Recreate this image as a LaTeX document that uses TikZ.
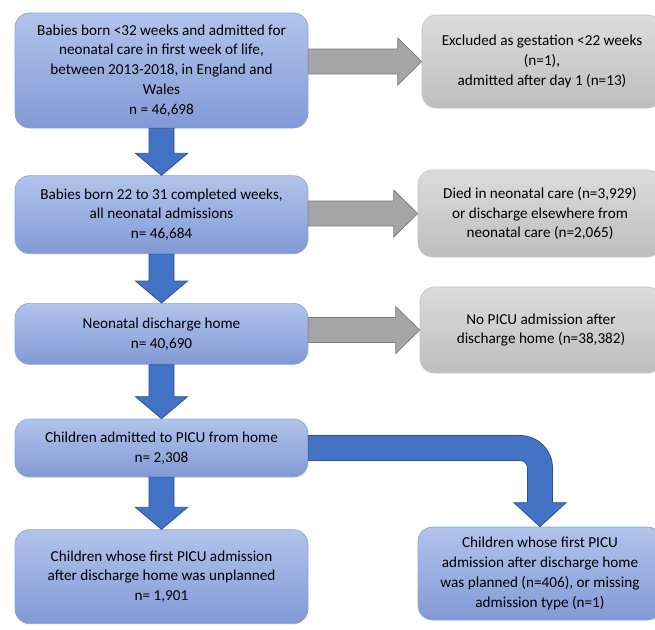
\documentclass[tikz,border=0pt]{standalone}
\usepackage{fontspec}
\setmainfont{Carlito}
\usetikzlibrary{positioning,calc}

\definecolor{bluetop}{HTML}{B2C4EB}
\definecolor{bluebot}{HTML}{8299D6}
\definecolor{blueline}{HTML}{8CA5DA}
\definecolor{greytop}{HTML}{DCDCDC}
\definecolor{greybot}{HTML}{BEBEBE}
\definecolor{greyline}{HTML}{C4C4C4}
\definecolor{arrowblue}{HTML}{4472C4}
\definecolor{arrowblueline}{HTML}{2F528F}
\definecolor{arrowgrey}{HTML}{A5A5A5}
\definecolor{arrowgreyline}{HTML}{7F7F7F}

\newcommand{\vflow}[2]{%
  \path[flowblue] ($(#1)+(-12.5,0)$) -- ($(#1)+(12.5,0)$) -- ($(#2)+(12.5,-22)$)
    -- ($(#2)+(26,-22)$) -- (#2) -- ($(#2)+(-26,-22)$) -- ($(#2)+(-12.5,-22)$) -- cycle;}
\newcommand{\hflow}[2]{%
  \path[flowgrey] ($(#1)+(0,-12.5)$) -- ($(#2)+(-24,-12.5)$) -- ($(#2)+(-24,-23.5)$)
    -- (#2) -- ($(#2)+(-24,23.5)$) -- ($(#2)+(-24,12.5)$) -- ($(#1)+(0,12.5)$) -- cycle;}

\begin{document}
\begin{tikzpicture}[x=0.75pt,y=-0.75pt,
    every node/.style={align=center, font=\fontsize{11.4pt}{14.9pt}\selectfont, inner sep=2pt},
    bluebox/.style={rounded corners=11pt, draw=blueline, line width=0.5pt,
      top color=bluetop, bottom color=bluebot, minimum width=219.75pt},
    greybox/.style={rounded corners=11pt, draw=greyline, line width=0.5pt,
      top color=greytop, bottom color=greybot},
    flowblue/.style={fill=arrowblue, draw=arrowblueline, line width=0.6pt},
    flowgrey/.style={fill=arrowgrey, draw=arrowgreyline, line width=0.6pt}]
    \path[fill=white, use as bounding box] (0,0) rectangle (655,629);

    \node (b1) [bluebox, minimum height=86.25pt] at (161.5,70.5)
        {Babies born <32 weeks and admitted for\\ neonatal care in first week of life,\\
         between 2013-2018, in England and\\ Wales\\ n = 46,698};
    \node (b2) [bluebox, minimum height=58.5pt, below=35.25pt of b1]
        {Babies born 22 to 31 completed weeks,\\ all neonatal admissions\\ n= 46,684};
    \node (b3) [bluebox, minimum height=45.75pt, below=36.75pt of b2]
        {Neonatal discharge home\\ n= 40,690};
    \node (b4) [bluebox, minimum height=43.5pt, below=40.5pt of b3]
        {Children admitted to PICU from home\\ n= 2,308};
    \node (b5) [bluebox, minimum height=70.5pt, below=39pt of b4]
        {Children whose first PICU admission\\ after discharge home was unplanned\\ n= 1,901};

    \node (g1) [greybox, minimum width=180pt, minimum height=69.75pt] at (542,61.5)
        {Excluded as gestation <22 weeks\\ (n=1),\\ admitted after day 1 (n=13)};
    \node (g2) [greybox, minimum width=183pt, minimum height=65.25pt] at (540,213.5)
        {Died in neonatal care (n=3,929)\\ or discharge elsewhere from\\ neonatal care (n=2,065)};
    \node (g3) [greybox, minimum width=181.5pt, minimum height=64.5pt] at (541,330)
        {No PICU admission after\\ discharge home (n=38,382)};
    \node (b6) [bluebox, minimum width=183pt, minimum height=69.75pt] at (540,573.5)
        {Children whose first PICU\\ admission after discharge home\\ was planned (n=406), or missing\\ admission type (n=1)};

    \coordinate (s1) at (b1.east |- g1.west);
    \coordinate (s2) at (b2.east |- g2.west);
    \coordinate (s3) at (b3.east |- g3.west);
    \coordinate (bend) at (b6.north |- b4.east);

    \vflow{b1.south}{b2.north}
    \vflow{b2.south}{b3.north}
    \vflow{b3.south}{b4.north}
    \vflow{b4.south}{b5.north}
    \hflow{s1}{g1.west}
    \hflow{s2}{g2.west}
    \hflow{s3}{g3.west}
    \path[flowblue] ($(b4.east)+(0,-12.5)$) -- ($(bend)+(-20,-12.5)$)
        arc[start angle=-90, end angle=0, radius=32.5]
        -- ($(b6.north)+(12.5,-24)$) -- ($(b6.north)+(26,-24)$) -- (b6.north)
        -- ($(b6.north)+(-26,-24)$) -- ($(b6.north)+(-12.5,-24)$) -- ($(bend)+(-12.5,20)$)
        arc[start angle=0, end angle=-90, radius=7.5]
        -- ($(b4.east)+(0,12.5)$) -- cycle;

\end{tikzpicture}
\end{document}
